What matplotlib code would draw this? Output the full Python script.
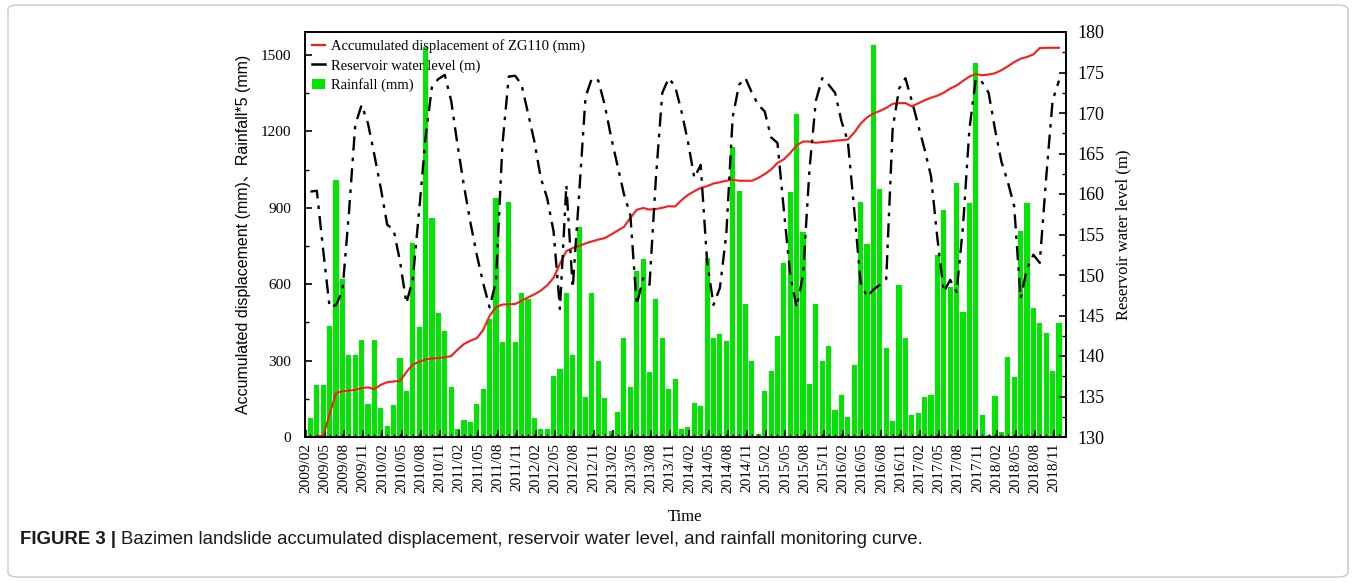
import numpy as np
import pandas as pd
import matplotlib
matplotlib.use("Agg")
import matplotlib.pyplot as plt
from matplotlib.patches import FancyBboxPatch, Patch
from matplotlib.lines import Line2D
from matplotlib.ticker import MultipleLocator

# monthly series 2009/02 .. 2018/11
months = pd.date_range("2009-02-01", "2018-11-01", freq="MS").strftime("%Y/%m").tolist()

# rainfall values as plotted (rainfall * 5, mm)
rainfall_x5 = [
    75, 205, 205, 435, 1010, 620, 320, 320, 380, 130, 380,            # 2009
    112, 45, 125, 312, 180, 760, 432, 1530, 860, 487, 418, 195,       # 2010
    30, 68, 60, 128, 188, 463, 938, 373, 922, 373, 566, 540,          # 2011
    75, 30, 30, 240, 268, 566, 321, 826, 158, 566, 300, 152,          # 2012
    25, 97, 388, 195, 650, 700, 255, 543, 388, 188, 226, 30,          # 2013
    38, 134, 120, 703, 389, 404, 376, 1137, 965, 522, 300, 12,        # 2014
    182, 258, 395, 683, 961, 1268, 804, 210, 522, 300, 359, 105,      # 2015
    166, 77, 284, 921, 758, 1540, 974, 350, 62, 596, 389, 85,         # 2016
    95, 158, 166, 714, 891, 590, 997, 492, 920, 1470, 86, 8,          # 2017
    161, 20, 314, 236, 810, 920, 506, 448, 410, 260, 448,             # 2018
]

# reservoir water level (m)
water_level = [
    160.3, 160.4, 153, 146, 146.3, 148, 157.5, 168.5, 171.0, 168.7, 164.8,
    160.7, 156.2, 155.6, 151.7, 146.5, 149.5, 158, 167, 173.3, 174.2, 174.7, 171.5,
    166, 161, 156.5, 152.5, 149, 146, 149.2, 166, 174.5, 174.6, 173.5, 170,
    166.5, 162, 159.5, 155.4, 145.8, 161.1, 148.4, 160, 172, 174.3, 174.0, 171,
    167, 163.5, 160, 157.4, 146.3, 149.6, 148.8, 162, 172.5, 174.3, 173.3, 170.2,
    166.5, 162.0, 163.6, 151.7, 146.3, 148.4, 155, 169.5, 173.5, 174.3, 172.5, 171,
    170.2, 167, 166.3, 158, 150, 146, 150, 163, 171.5, 174.3, 173.5, 172.5,
    169, 166.5, 158, 149, 147.3, 148.2, 148.8, 149.5, 168, 173, 174.3, 171.5,
    168.5, 165.5, 162.2, 154.5, 147.9, 149.4, 147.9, 156, 168, 174.2, 173.8, 172.5,
    168, 164, 161.5, 158.5, 147.1, 150.8, 152.5, 151.5, 162, 171.5, 174,
]

# accumulated displacement of ZG110 (mm)
displacement = [
    0, 2, 5, 90, 172, 180, 182, 185, 192, 195, 188,
    205, 215, 218, 220, 255, 285, 295, 305, 308, 310, 313, 318,
    343, 365, 378, 388, 420, 475, 510, 520, 521, 522, 535, 548,
    560, 575, 595, 625, 680, 730, 742, 750, 760, 768, 775, 781,
    795, 810, 825, 860, 892, 899, 893, 895, 900, 906, 905, 930,
    950, 965, 978, 985, 995, 1000, 1006, 1010, 1006, 1006, 1006, 1017,
    1032, 1050, 1076, 1090, 1115, 1145, 1160, 1160, 1155, 1158, 1160, 1163,
    1165, 1168, 1195, 1230, 1255, 1270, 1280, 1292, 1308, 1311, 1311, 1298,
    1310, 1322, 1332, 1340, 1352, 1368, 1380, 1398, 1415, 1425, 1420, 1423,
    1428, 1440, 1455, 1472, 1485, 1492, 1502, 1527, 1528, 1528, 1528,
]

x = np.arange(len(months))
serif = "Liberation Serif"

fig = plt.figure(figsize=(13.56, 5.82), dpi=100)
ax = fig.add_axes([305 / 1356, 1 - 437 / 582, (1066 - 305) / 1356, (437 - 32) / 582])
ax2 = ax.twinx()

ax.bar(x, rainfall_x5, width=0.8, color="#00e600", edgecolor="none", zorder=1)
ax.plot(x, displacement, color="#ff1a1a", lw=1.5, zorder=3)
ax2.plot(x, water_level, color="black", lw=1.7, linestyle=(0, (6, 3, 1.5, 3)))

ax.set_xlim(-0.85, 118.1)
ax.set_ylim(0, 1590)
ax2.set_ylim(130, 180)

ax.set_xticks(x[::3] - 0.75)
ax.set_xticklabels(months[::3], rotation=90, fontfamily=serif, fontsize=11)
ax.xaxis.set_minor_locator(MultipleLocator(1))
ax.yaxis.set_major_locator(MultipleLocator(300))
ax.yaxis.set_minor_locator(MultipleLocator(150))
ax2.yaxis.set_major_locator(MultipleLocator(5))
ax2.yaxis.set_minor_locator(MultipleLocator(2.5))

ax.tick_params(axis="both", which="both", direction="in")
ax.tick_params(which="major", length=5, width=1.2)
ax.tick_params(which="minor", length=3, width=1)
ax.tick_params(axis="x", which="minor", length=2.5)
ax.tick_params(axis="y", pad=10)
ax.tick_params(axis="x", pad=4)
ax2.tick_params(which="both", direction="in")
ax2.tick_params(which="major", length=5, width=1.2, pad=8)
ax2.tick_params(which="minor", length=3, width=1)
for lab in ax.get_yticklabels():
    lab.set_fontfamily(serif)
    lab.set_fontsize(11)
for lab in ax2.get_yticklabels():
    lab.set_fontfamily(serif)
    lab.set_fontsize(13)
for a in (ax, ax2):
    for s in a.spines.values():
        s.set_linewidth(1.2)

ax.set_ylabel("Accumulated displacement (mm)、Rainfall*5 (mm)",
              family=["Liberation Sans", "Noto Sans CJK SC"], fontsize=11.5, labelpad=7)
ax2.set_ylabel("Reservoir water level (m)", fontfamily=serif, fontsize=12, labelpad=8)
ax.set_xlabel("Time", fontfamily=serif, fontsize=12, labelpad=12)

handles = [Line2D([], [], color="#ff1a1a", lw=1.6),
           Line2D([], [], color="black", lw=1.8),
           Patch(facecolor="#00e600")]
labels = ["Accumulated displacement of ZG110 (mm)", "Reservoir water level (m)", "Rainfall (mm)"]
ax2.legend(handles, labels, loc="upper left", frameon=False, prop={"family": serif, "size": 10.5},
           handlelength=0.9, handletextpad=0.4, labelspacing=0.4, borderaxespad=0.3,
           borderpad=0.2)

# outer frame and caption
fig.patches.append(FancyBboxPatch((8 / 1356, 5 / 582), 1340 / 1356, 572 / 582,
                                  boxstyle="round,pad=0,rounding_size=0.008",
                                  transform=fig.transFigure, facecolor="none",
                                  edgecolor="#c8c8c8", lw=1))
t1 = fig.text(20 / 1356, 1 - 540 / 582, "FIGURE 3 |", fontfamily="Liberation Sans",
              fontweight="bold", fontsize=13.4, va="center", color="#1a1a1a")
r = fig.canvas.get_renderer()
bb = t1.get_window_extent(r)
fig.text((bb.x1 + 5) / 1356, 1 - 540 / 582,
         "Bazimen landslide accumulated displacement, reservoir water level, and rainfall monitoring curve.",
         fontfamily="Liberation Sans", fontsize=13.4, va="center", color="#1a1a1a")

fig.savefig("out.png", dpi=100)
